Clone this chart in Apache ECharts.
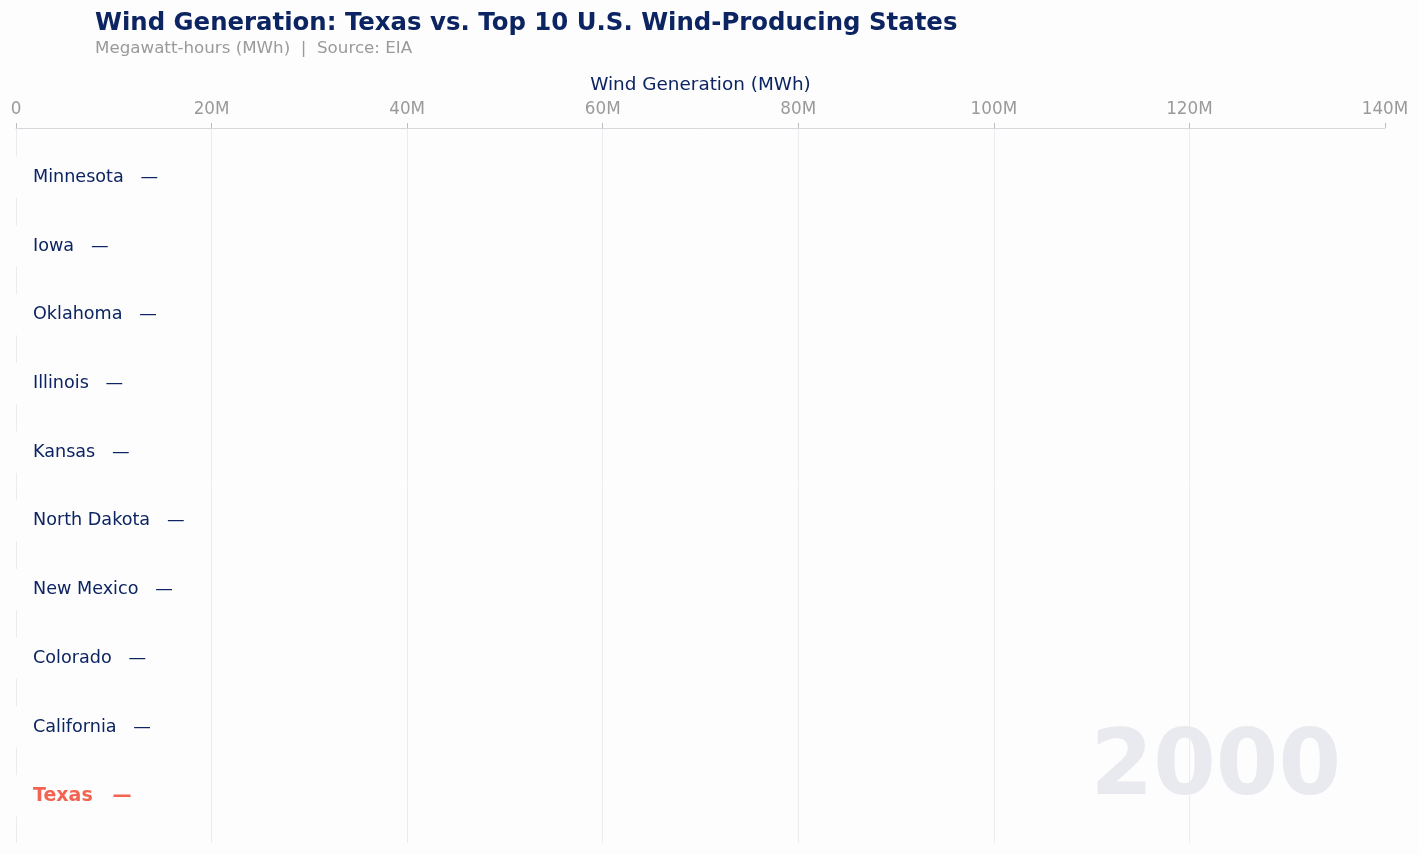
<!DOCTYPE html>
<html>
<head>
<meta charset="utf-8">
<script src="https://cdn.jsdelivr.net/npm/echarts@6/dist/echarts.min.js"></script>
<style>html,body{margin:0;padding:0;background:#fdfdfd;}#c{width:1419px;height:854px;}</style>
</head>
<body>
<div id="c"></div>
<script>
var year = '2000';
var states = ['Minnesota', 'Iowa', 'Oklahoma', 'Illinois', 'Kansas', 'North Dakota', 'New Mexico', 'Colorado', 'California', 'Texas'];
var values = [0, 0, 0, 0, 0, 0, 0, 0, 0, 0];
var xTicks = [0, 20e6, 40e6, 60e6, 80e6, 100e6, 120e6, 140e6];

var NAVY = '#0c2461', CORAL = '#f26451', BG = '#fdfdfd', FONT = 'DejaVu Sans';

function fmtM(v) { return v === 0 ? '0' : (v / 1e6) + 'M'; }

var chart = echarts.init(document.getElementById('c'));
var data = states.map(function (s, i) {
  var item = { value: values[i] };
  if (s === 'Texas') item.label = { color: CORAL, fontWeight: 'bold', fontSize: 19 };
  return item;
});

chart.setOption({
  backgroundColor: BG,
  animation: false,
  title: {
    text: 'Wind Generation: Texas vs. Top 10 U.S. Wind-Producing States',
    subtext: 'Megawatt-hours (MWh)  |  Source: EIA',
    left: 90, top: 7, itemGap: 4,
    textStyle: { fontFamily: FONT, fontSize: 24.4, fontWeight: 'bold', color: NAVY },
    subtextStyle: { fontFamily: FONT, fontSize: 16.7, color: '#9a9a9a' }
  },
  grid: [
    { left: 16, right: 34, top: 128, bottom: 11 },
    { left: 16, right: 34, top: 143, bottom: 24 }
  ],
  xAxis: [
    {
      gridIndex: 0, type: 'value', position: 'top', min: xTicks[0], max: xTicks[xTicks.length - 1], interval: 20e6,
      name: 'Wind Generation (MWh)', nameLocation: 'middle', nameGap: 34,
      nameTextStyle: { fontFamily: FONT, fontSize: 18.4, color: NAVY },
      axisLine: { show: true, onZero: false, lineStyle: { color: '#d8d8dc', width: 1 } },
      axisTick: { show: true, length: 5, lineStyle: { color: '#bbbbc0' } },
      axisLabel: { fontFamily: FONT, fontSize: 16.8, color: '#9a9a9a', margin: 10, formatter: fmtM },
      splitLine: { show: true, showMaxLine: false, lineStyle: { color: '#ececf0', width: 1 } }
    },
    {
      gridIndex: 1, type: 'value', min: xTicks[0], max: xTicks[xTicks.length - 1], show: false,
      splitLine: { show: false }
    }
  ],
  yAxis: [
    { gridIndex: 0, type: 'value', show: false, splitLine: { show: false } },
    {
      gridIndex: 1, type: 'category', data: states, inverse: true,
      axisLine: { show: false }, axisTick: { show: false }, axisLabel: { show: false }
    }
  ],
  graphic: [{
    type: 'text', right: 78, bottom: 38, z: -1, silent: true,
    style: { text: year, fontFamily: FONT, fontSize: 90, fontWeight: 'bold', fill: '#e9eaef' }
  }],
  series: [{
    type: 'bar', xAxisIndex: 1, yAxisIndex: 1, data: data,
    barWidth: 43, barMinHeight: 2,
    itemStyle: { color: BG, borderColor: BG, borderWidth: 2 },
    label: {
      show: true, position: 'right', distance: 15,
      fontFamily: FONT, fontSize: 17.6, color: NAVY,
      formatter: function (p) { return p.name + '   ' + (p.value ? fmtM(p.value) : '—'); }
    }
  }]
});
</script>
</body>
</html>
